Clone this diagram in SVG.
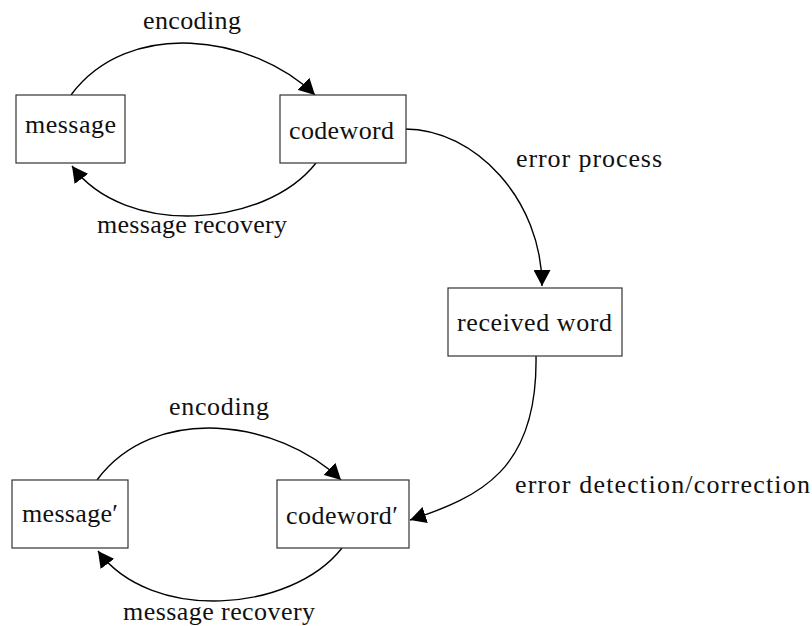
<svg xmlns="http://www.w3.org/2000/svg" width="812" height="626" viewBox="0 0 812 626">
<style>
.box{fill:#fff;stroke:#333;stroke-width:1.2}
.t{font-family:'Liberation Serif','Times New Roman',Times,'DejaVu Serif',serif;font-size:26px;fill:#111}
.e{fill:none;stroke:#000;stroke-width:1.4;marker-end:url(#ah)}
</style>
<defs>
<marker id="ah" viewBox="0 0 16 17" refX="16" refY="8.5" markerWidth="16" markerHeight="17" markerUnits="userSpaceOnUse" orient="auto">
<path d="M0,0 L16,8.5 L0,17 z" fill="#000"/>
</marker>
</defs>
<rect width="812" height="626" fill="#fff"/>
<g id="connectors">
<path class="e" d="M71,95 C128,18 252,34 315,95"/>
<path class="e" d="M316,163 C265,228 125,238 72,166"/>
<path class="e" d="M405,129 C475,129 542,200 542,286"/>
<path class="e" d="M536,356 C538,470 480,497 410,520"/>
<path class="e" d="M97,480 C154,403 278,419 341,480"/>
<path class="e" d="M342,548 C291,613 151,623 98,551"/>
<text class="t" x="143" y="29" textLength="98">encoding</text>
<text class="t" x="97" y="233" textLength="190">message recovery</text>
<text class="t" x="516" y="167" textLength="146">error process</text>
<text class="t" x="515" y="493" textLength="295">error detection/correction</text>
<text class="t" x="169" y="415" textLength="100">encoding</text>
<text class="t" x="123" y="620" textLength="192">message recovery</text>
</g>
<g id="message">
<rect class="box" x="16" y="95" width="109" height="68"/>
<text class="t" x="25" y="133" textLength="91">message</text>
</g>
<g id="codeword">
<rect class="box" x="280" y="95" width="126" height="68"/>
<text class="t" x="289" y="139" textLength="105">codeword</text>
</g>
<g id="received">
<rect class="box" x="448" y="288" width="174" height="68"/>
<text class="t" x="457" y="331" textLength="155">received word</text>
</g>
<g id="message2">
<rect class="box" x="12" y="480" width="116" height="68"/>
<text class="t" x="22" y="522" textLength="96">message′</text>
</g>
<g id="codeword2">
<rect class="box" x="277" y="480" width="132" height="68"/>
<text class="t" x="286" y="524" textLength="112">codeword′</text>
</g>
</svg>
